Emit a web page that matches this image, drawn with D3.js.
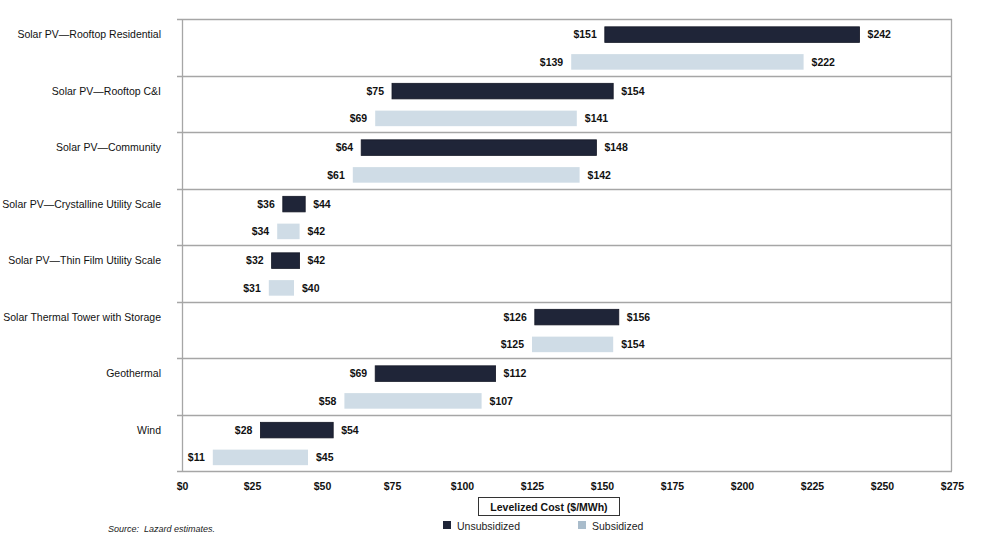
<!DOCTYPE html>
<html><head><meta charset="utf-8">
<script src="https://cdn.jsdelivr.net/npm/d3@7"></script>
<style>body{margin:0;background:#fff;} text{font-family:"Liberation Sans",Arial,sans-serif;}</style>
</head><body>
<svg id="c" width="1000" height="535"></svg>
<script>
const categories = ["Solar PV\u2014Rooftop  Residential","Solar PV\u2014Rooftop C&I","Solar PV\u2014Community","Solar PV\u2014Crystalline Utility Scale","Solar PV\u2014Thin Film Utility Scale","Solar Thermal Tower with Storage","Geothermal","Wind"];
const unsubLow  = [151, 75, 64, 36, 32, 126, 69, 28];
const unsubHigh = [242, 154, 148, 44, 42, 156, 112, 54];
const subLow    = [139, 69, 61, 34, 31, 125, 58, 11];
const subHigh   = [222, 141, 142, 42, 40, 154, 107, 45];
const tickValues = [0,25,50,75,100,125,150,175,200,225,250,275];
const seriesNames = ["Unsubsidized","Subsidized"];

const svg = d3.select("#c");
const L=182, R=952, T=19, B=471;
const x = d3.scaleLinear().domain([0,275]).range([L,R]);
const y = d3.scaleBand().domain(categories).range([T,B]);
const inner = d3.scaleBand().domain(seriesNames).range([0,y.bandwidth()]).paddingInner(0.43).paddingOuter(0.25);
const colors = {"Unsubsidized":"#1f2538","Subsidized":"#cfdce6"};

// row separators
svg.append("g").selectAll("line").data(categories.concat(["__end"])).join("line")
  .attr("x1",177).attr("x2",R)
  .attr("y1",(d,i)=> Math.round(T + i*y.step())+0.5)
  .attr("y2",(d,i)=> Math.round(T + i*y.step())+0.5)
  .attr("stroke","#a6a6a6").attr("stroke-width",1.3);
// frame verticals
svg.append("line").attr("x1",L+0.5).attr("x2",L+0.5).attr("y1",T).attr("y2",B).attr("stroke","#a6a6a6").attr("stroke-width",1.3);
svg.append("line").attr("x1",R-0.5).attr("x2",R-0.5).attr("y1",T).attr("y2",B).attr("stroke","#a6a6a6").attr("stroke-width",1.3);

const rows = [];
categories.forEach((c,i)=>{
  rows.push({cat:c, s:"Unsubsidized", lo:unsubLow[i], hi:unsubHigh[i]});
  rows.push({cat:c, s:"Subsidized", lo:subLow[i], hi:subHigh[i]});
});

const g = svg.append("g").attr("transform","translate(0,1)");
g.selectAll("rect").data(rows).join("rect")
  .attr("x",d=>x(d.lo)).attr("width",d=>x(d.hi)-x(d.lo))
  .attr("y",d=>y(d.cat)+inner(d.s)).attr("height",inner.bandwidth())
  .attr("fill",d=>colors[d.s])
  .attr("stroke",d=>d.s==="Unsubsidized"?"#141826":"none").attr("stroke-width",0.8);

g.selectAll("text.lo").data(rows).join("text").attr("class","lo")
  .attr("x",d=>x(d.lo)-8).attr("y",d=>y(d.cat)+inner(d.s)+inner.bandwidth()/2)
  .attr("dy","0.35em").attr("text-anchor","end")
  .attr("font-size",10.5).attr("font-weight","bold").attr("fill","#111")
  .text(d=>"$"+d.lo);
g.selectAll("text.hi").data(rows).join("text").attr("class","hi")
  .attr("x",d=>x(d.hi)+8).attr("y",d=>y(d.cat)+inner(d.s)+inner.bandwidth()/2)
  .attr("dy","0.35em").attr("text-anchor","start")
  .attr("font-size",10.5).attr("font-weight","bold").attr("fill","#111")
  .text(d=>"$"+d.hi);

// category labels
svg.append("g").attr("transform","translate(0,1)").selectAll("text").data(categories).join("text")
  .attr("x",161).attr("y",d=>y(d)+inner("Unsubsidized")+inner.bandwidth()/2)
  .attr("dy","0.35em").attr("text-anchor","end").attr("font-size",10.5).attr("fill","#111")
  .text(d=>d);

// x axis
const ax = svg.append("g").attr("transform",`translate(0,${B})`)
  .call(d3.axisBottom(x).tickValues(tickValues).tickSize(0).tickPadding(12).tickFormat(d=>"$"+d));
ax.select(".domain").remove();
ax.selectAll("text").attr("font-size",10.5).attr("font-weight","bold").attr("fill","#111")
  .style("font-family","'Liberation Sans',Arial,sans-serif");

// axis title box
svg.append("rect").attr("x",478.5).attr("y",497.5).attr("width",141).attr("height",18)
  .attr("fill","#fff").attr("stroke","#333").attr("stroke-width",1);
svg.append("text").attr("x",549).attr("y",507).attr("dy","0.35em").attr("text-anchor","middle")
  .attr("font-size",10.5).attr("font-weight","bold").attr("fill","#111").text("Levelized Cost ($/MWh)");

// legend
const leg = [{n:"Unsubsidized",x:443,c:"#1f2538"},{n:"Subsidized",x:578,c:"#a9bccb"}];
leg.forEach(l=>{
  svg.append("rect").attr("x",l.x).attr("y",521).attr("width",8).attr("height",8).attr("fill",l.c);
  svg.append("text").attr("x",l.x+14).attr("y",526).attr("dy","0.35em").attr("font-size",10.5).attr("fill","#222").text(l.n);
});

// source
svg.append("text").attr("x",108).attr("y",529).attr("dy","0.35em").attr("font-size",9).attr("font-style","italic").attr("fill","#222").attr("xml:space","preserve").text("Source:  Lazard estimates.");
</script>
</body></html>
